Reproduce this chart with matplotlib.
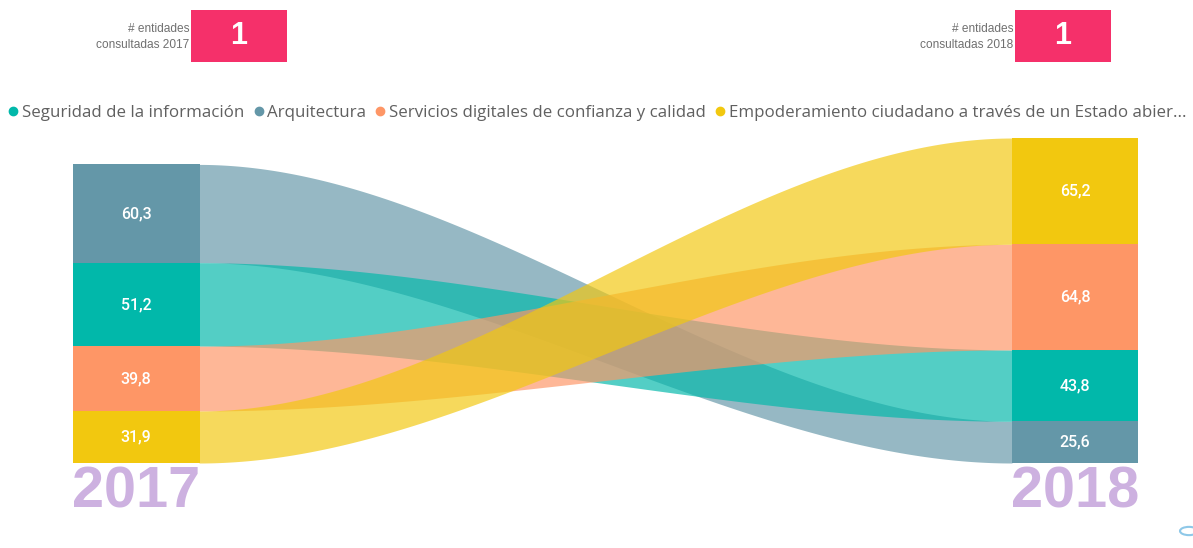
import numpy as np
import matplotlib
matplotlib.use("Agg")
import matplotlib.pyplot as plt
from matplotlib.patches import Rectangle, Circle
from matplotlib.lines import Line2D

# ---------------- data ----------------
series = ["Seguridad de la información", "Arquitectura",
          "Servicios digitales de confianza y calidad",
          "Empoderamiento ciudadano a través de un Estado abier..."]
years = ["2017", "2018"]
values_2017 = [51.2, 60.3, 39.8, 31.9]
values_2018 = [43.8, 25.6, 64.8, 65.2]
entidades_2017 = 1
entidades_2018 = 1
card_label = "# entidades\nconsultadas {}"

solid_colors = ["#01B8AA", "#6497A8", "#FE9666", "#F2C80F"]

W, H = 1193, 548
fig = plt.figure(figsize=(W / 100, H / 100), dpi=100)

# chart axes (pixel layout -> figure fractions)
left_px, right_px, top_px, bottom_px = 73, 1138, 138, 463
ax = fig.add_axes([left_px / W, 1 - bottom_px / H, (right_px - left_px) / W, (bottom_px - top_px) / H])
ax.set_xlim(0, right_px - left_px)
totals = [sum(values_2017), sum(values_2018)]
ax.set_ylim(0, max(totals))
ax.axis("off")

col_w = 126
col_x = [0, (right_px - left_px) - col_w]


def stack(vals):
    order = np.argsort(vals)  # smallest at bottom
    bottoms = {}
    acc = 0.0
    for i in order:
        bottoms[i] = acc
        acc += vals[i]
    return bottoms


b17 = stack(values_2017)
b18 = stack(values_2018)

# ribbons
x0 = col_x[0] + col_w
x1 = col_x[1]
xs = np.linspace(x0, x1, 300)
t = (xs - x0) / (x1 - x0)
s = 3 * t ** 2 - 2 * t ** 3
draw_order = [1, 0, 2, 3]
for i in draw_order:
    lo = b17[i] + (b18[i] - b17[i]) * s
    hi = (b17[i] + values_2017[i]) + ((b18[i] + values_2018[i]) - (b17[i] + values_2017[i])) * s
    ax.fill_between(xs, lo, hi, color=solid_colors[i], alpha=0.68, lw=0)

# columns
for cx, vals, bots in [(col_x[0], values_2017, b17), (col_x[1], values_2018, b18)]:
    for i, v in enumerate(vals):
        ax.add_patch(Rectangle((cx, bots[i]), col_w + (1 if cx == 0 else 0), v,
                               color=solid_colors[i], lw=0))
        ax.text(cx + col_w / 2, bots[i] + v / 2, f"{v:.1f}".replace(".", ","),
                ha="center", va="center", color="white", fontsize=11.5,
                family="Roboto", fontweight="medium")

# year labels
for cx, yr in zip(col_x, years):
    fig.text((left_px + cx + col_w / 2) / W, 1 - 508 / H, yr, ha="center", va="baseline",
             fontsize=41.5, fontweight="bold", family="Liberation Sans", color="#CDB1E0")

# cards
for box_left, yr, n in [(191, years[0], entidades_2017), (1015, years[1], entidades_2018)]:
    fig.patches.append(Rectangle((box_left / W, 1 - 62 / H), 96 / W, 52 / H,
                                 transform=fig.transFigure, color="#F5306A", lw=0))
    fig.text((box_left + 48) / W, 1 - 36 / H, str(n), ha="center", va="center",
             fontsize=22, fontweight="bold", color="white", family="Liberation Sans")
    fig.text((box_left - 2) / W, 1 - 37 / H, card_label.format(yr), ha="right", va="center",
             fontsize=8.6, color="#707070", family="Liberation Sans", linespacing=1.45)

# legend
handles = [Line2D([], [], marker="o", ls="", color=c, markersize=6) for c in solid_colors]
fig.legend(handles, series, loc="center left", bbox_to_anchor=(5 / W, 1 - 113 / H), ncol=4,
           frameon=False, handletextpad=0.0, columnspacing=0.35, handlelength=1.0,
           borderaxespad=0, borderpad=0,
           prop={"family": "Open Sans", "size": 12.2}, labelcolor="#606060")

# small icon bottom right
fig.patches.append(Circle((1189 / W, 1 - 531 / H), 9 / W, transform=fig.transFigure,
                          fill=False, ec="#8EC8E8", lw=1.5))

fig.savefig("out.png", dpi=100, facecolor="white")
